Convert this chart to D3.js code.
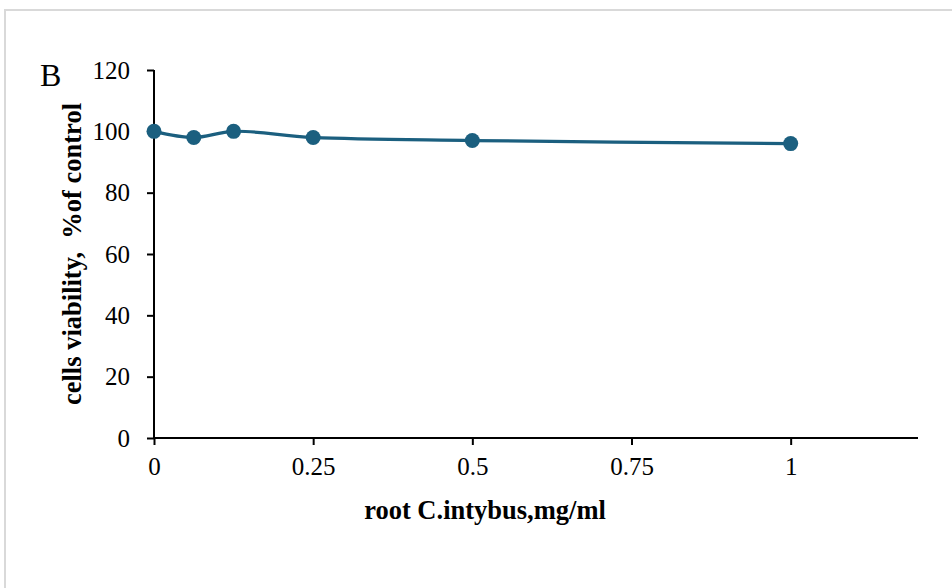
<!DOCTYPE html>
<html>
<head>
<meta charset="utf-8">
<script src="https://cdn.jsdelivr.net/npm/d3@7"></script>
<style>
  body { margin: 0; background: #fff; }
  text { font-family: "Liberation Serif", "Times New Roman", serif; fill: #000; }
</style>
</head>
<body>
<div id="chart"></div>
<script>
var conc = [0, 0.0625, 0.125, 0.25, 0.5, 1];
var viability = [100, 98, 100, 98, 97, 96];
var xTicks = [0, 0.25, 0.5, 0.75, 1];
var yTicks = [0, 20, 40, 60, 80, 100, 120];

function render(){
  var width = 952, height = 588;
  var margin = {'top': 70, 'bottom': 150, 'left': 154, 'right': 34};

  var svg = d3.select("#chart")
    .append('svg')
    .attr('width', width)
    .attr('height', height);

  // frame, open at right and bottom edges
  svg.append('rect')
    .attr('x', 5)
    .attr('y', 10)
    .attr('width', 1000)
    .attr('height', 1000)
    .attr('fill', 'none')
    .attr('stroke', '#d9d9d9')
    .attr('stroke-width', 2);

  var x = d3.scaleLinear()
    .domain([0, 1.2])
    .range([margin.left, width - margin.right]);

  var y = d3.scaleLinear()
    .domain([0, 120])
    .range([height - margin.bottom, margin.top]);

  var xAxis = svg.append('g')
    .attr('transform', 'translate(0,' + y(0) + ')')
    .call(d3.axisBottom(x).tickValues(xTicks).tickSize(7).tickPadding(12)
      .tickFormat(function(d) { return d3.format('')(d); }));

  var yAxis = svg.append('g')
    .attr('transform', 'translate(' + x(0) + ',0)')
    .call(d3.axisLeft(y).tickValues(yTicks).tickSize(7).tickPadding(17));

  [xAxis, yAxis].forEach(function(a){
    a.select('.domain').attr('stroke', '#000').attr('stroke-width', 2);
    a.selectAll('.tick line').attr('stroke', '#000').attr('stroke-width', 2);
    a.selectAll('.tick text')
      .attr('font-family', '"Liberation Serif", serif')
      .attr('font-size', 25)
      .attr('fill', '#000');
  });
  xAxis.select('.domain').attr('d', 'M' + x(0) + ',0H' + x(1.2));
  yAxis.select('.domain').attr('d', 'M0,' + y(120) + 'V' + y(0));

  var pts = conc.map(function(c, i) { return [c, viability[i]]; });

  var line = d3.line()
    .x(function(d) { return x(d[0]); })
    .y(function(d) { return y(d[1]); })
    .curve(d3.curveCatmullRom.alpha(0.5));

  svg.append('path')
    .datum(pts)
    .attr('d', line)
    .attr('fill', 'none')
    .attr('stroke', '#1b5f7f')
    .attr('stroke-width', 3.2);

  svg.selectAll('circle.pt')
    .data(pts)
    .enter()
    .append('circle')
    .attr('class', 'pt')
    .attr('cx', function(d) { return x(d[0]); })
    .attr('cy', function(d) { return y(d[1]); })
    .attr('r', 7.5)
    .attr('fill', '#1b5f7f');

  svg.append('text')
    .attr('x', 40)
    .attr('y', 86)
    .attr('font-size', 32)
    .text('B');

  svg.append('text')
    .attr('transform', 'translate(81,254) rotate(-90)')
    .attr('text-anchor', 'middle')
    .attr('font-size', 26.5)
    .attr('font-weight', 'bold')
    .attr('xml:space', 'preserve')
    .style('white-space', 'pre')
    .text('cells viability,  %of control');

  svg.append('text')
    .attr('x', 485)
    .attr('y', 519)
    .attr('text-anchor', 'middle')
    .attr('font-size', 26.5)
    .attr('font-weight', 'bold')
    .text('root C.intybus,mg/ml');
}

render();
</script>
</body>
</html>
